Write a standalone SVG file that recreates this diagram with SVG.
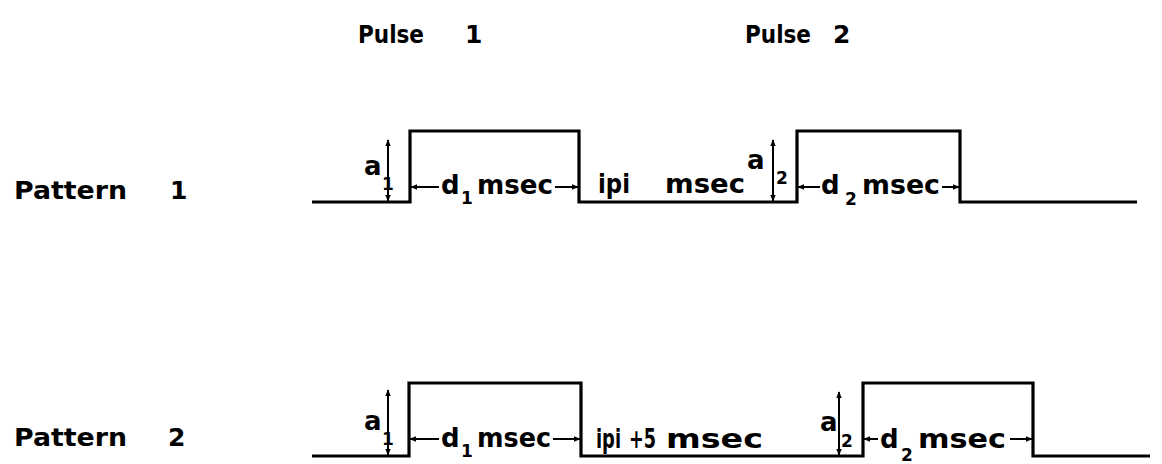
<svg xmlns="http://www.w3.org/2000/svg" width="1162" height="464" viewBox="0 0 1162 464">
<style>
text{font-family:"DejaVu Sans","Liberation Sans",sans-serif;font-weight:bold;fill:#000}
.t{font-size:25px}
.p{font-size:25px}
.l{font-size:26px}
.s{font-size:17px}
.w{fill:none;stroke:#000;stroke-width:3.2}
.a{stroke:#000;stroke-width:2;fill:none}
</style>
<defs>
<marker id="ah" viewBox="0 0 10 10" refX="9" refY="5" markerWidth="7" markerHeight="7" orient="auto-start-reverse" markerUnits="userSpaceOnUse"><path d="M0,1 L10,5 L0,9 z" fill="#000"/></marker>
</defs>
<rect width="1162" height="464" fill="#fff"/>
<g id="titles">
<text class="p" x="358" y="43" textLength="66" lengthAdjust="spacingAndGlyphs">Pulse</text><text class="p" x="465" y="43">1</text>
<text class="p" x="745" y="43" textLength="66" lengthAdjust="spacingAndGlyphs">Pulse</text><text class="p" x="833" y="43">2</text>
</g>
<g id="pattern1-label"><text class="t" x="14" y="199" textLength="113" lengthAdjust="spacingAndGlyphs">Pattern</text><text class="t" x="170" y="199">1</text></g>
<g id="pattern2-label"><text class="t" x="14" y="446" textLength="113" lengthAdjust="spacingAndGlyphs">Pattern</text><text class="t" x="168" y="446">2</text></g>
<g id="waveform1"><path class="w" d="M312 202 H410 V131 H579 V202 H797 V131 H960 V202 H1137"/></g>
<g id="waveform2"><path class="w" d="M312 456 H409 V383 H581 V456 H863 V383 H1033 V456 H1150"/></g>
<g id="connectors">
<line class="a" x1="388" y1="140" x2="388" y2="201" marker-start="url(#ah)" marker-end="url(#ah)"/>
<line class="a" x1="439" y1="187" x2="411" y2="187" marker-end="url(#ah)"/>
<line class="a" x1="555" y1="187" x2="578" y2="187" marker-end="url(#ah)"/>
<line class="a" x1="773" y1="140" x2="773" y2="201" marker-start="url(#ah)" marker-end="url(#ah)"/>
<line class="a" x1="820" y1="187" x2="798" y2="187" marker-end="url(#ah)"/>
<line class="a" x1="942" y1="187" x2="959" y2="187" marker-end="url(#ah)"/>
<line class="a" x1="388" y1="390" x2="388" y2="455" marker-start="url(#ah)" marker-end="url(#ah)"/>
<line class="a" x1="439" y1="439" x2="410" y2="439" marker-end="url(#ah)"/>
<line class="a" x1="553" y1="439" x2="580" y2="439" marker-end="url(#ah)"/>
<line class="a" x1="839" y1="392" x2="839" y2="455" marker-start="url(#ah)" marker-end="url(#ah)"/>
<line class="a" x1="878" y1="439" x2="864" y2="439" marker-end="url(#ah)"/>
<line class="a" x1="1010" y1="439" x2="1032" y2="439" marker-end="url(#ah)"/>
</g>
<g id="labels1">
<text class="l" x="364" y="175">a</text><text class="s" x="382" y="190">1</text>
<text class="l" x="441" y="194">d</text><text class="s" x="461" y="204">1</text>
<text class="l" x="477" y="194" textLength="76" lengthAdjust="spacingAndGlyphs">msec</text>
<text class="l" x="598" y="193" textLength="32" lengthAdjust="spacingAndGlyphs">ipi</text><text class="l" x="665" y="193" textLength="80" lengthAdjust="spacingAndGlyphs">msec</text>
<text class="l" x="747" y="169">a</text><text class="s" x="776" y="184">2</text>
<text class="l" x="821" y="194">d</text><text class="s" x="845" y="205">2</text>
<text class="l" x="862" y="194" textLength="78" lengthAdjust="spacingAndGlyphs">msec</text>
</g>
<g id="labels2">
<text class="l" x="364" y="430">a</text><text class="s" x="382" y="445">1</text>
<text class="l" x="441" y="447">d</text><text class="s" x="461" y="457">1</text>
<text class="l" x="477" y="447" textLength="74" lengthAdjust="spacingAndGlyphs">msec</text>
<text class="l" x="596" y="448" textLength="25" lengthAdjust="spacingAndGlyphs">ipi</text><text class="l" x="629" y="448" textLength="27" lengthAdjust="spacingAndGlyphs">+5</text><text class="l" x="666" y="448" textLength="97" lengthAdjust="spacingAndGlyphs">msec</text>
<text class="l" x="820" y="431">a</text><text class="s" x="841" y="447">2</text>
<text class="l" x="880" y="448">d</text><text class="s" x="901" y="461">2</text>
<text class="l" x="918" y="448" textLength="88" lengthAdjust="spacingAndGlyphs">msec</text>
</g>
</svg>
